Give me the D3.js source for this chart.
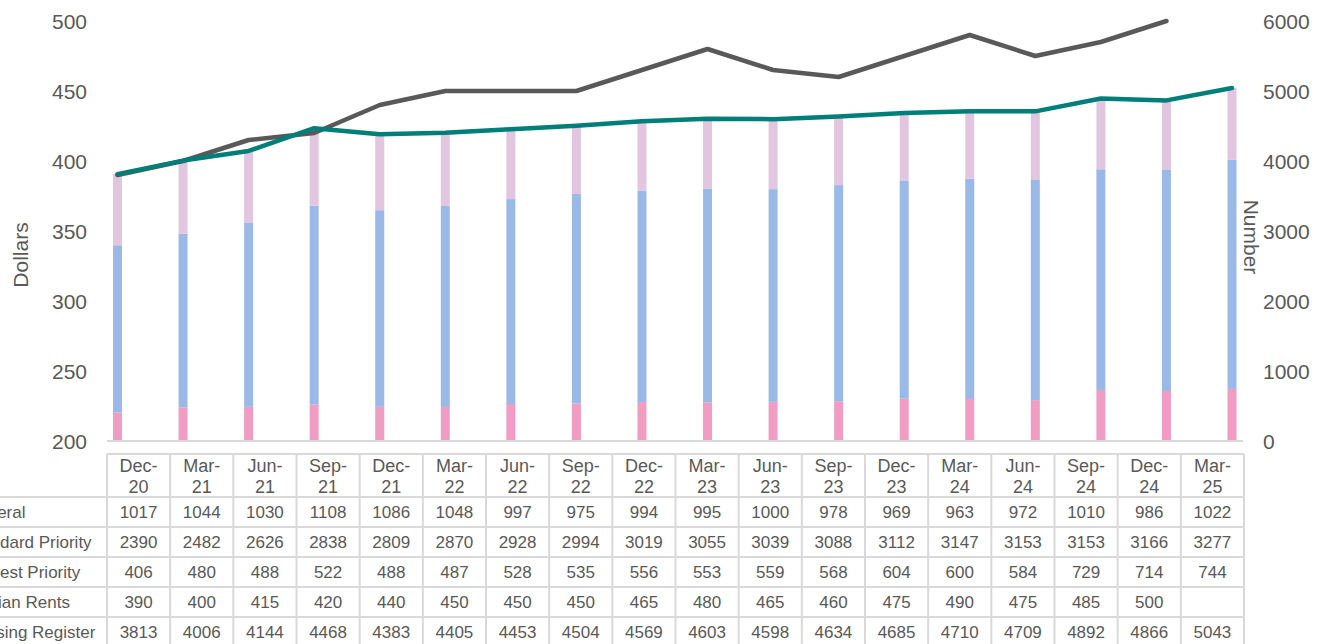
<!DOCTYPE html>
<html><head><meta charset="utf-8">
<script src="https://cdn.jsdelivr.net/npm/d3@7"></script>
<style>body{margin:0;background:#fff;overflow:hidden}svg{display:block}text{font-family:"Liberation Sans",Arial,sans-serif;fill:#595959}</style>
</head><body><svg id="c" width="1327" height="644"></svg>
<script>
const periods = ["Dec-20","Mar-21","Jun-21","Sep-21","Dec-21","Mar-22","Jun-22","Sep-22","Dec-22","Mar-23","Jun-23","Sep-23","Dec-23","Mar-24","Jun-24","Sep-24","Dec-24","Mar-25"];
const general = [1017,1044,1030,1108,1086,1048,997,975,994,995,1000,978,969,963,972,1010,986,1022];
const standardPriority = [2390,2482,2626,2838,2809,2870,2928,2994,3019,3055,3039,3088,3112,3147,3153,3153,3166,3277];
const highestPriority = [406,480,488,522,488,487,528,535,556,553,559,568,604,600,584,729,714,744];
const medianRents = [390,400,415,420,440,450,450,450,465,480,465,460,475,490,475,485,500,null];
const housingRegister = [3813,4006,4144,4468,4383,4405,4453,4504,4569,4603,4598,4634,4685,4710,4709,4892,4866,5043];
const leftTicks = [200,250,300,350,400,450,500];
const rightTicks = [0,1000,2000,3000,4000,5000,6000];

(function(){
const svg = d3.select("#c");
const plotTop = 21, plotBottom = 441, plotL = 107, plotR = 1243;
const x = d3.scalePoint().domain(periods).range([117.5, 1232]);
const yL = d3.scaleLinear().domain([200,500]).range([plotBottom, plotTop]);
const yR = d3.scaleLinear().domain([0,6000]).range([plotBottom, plotTop]);
const colT = d3.scaleBand().domain(periods).range([107, 1244]);

// bars
const stackKeys = ["highest","standard","general"];
const colors = {highest:"#F09CC3", standard:"#9BB9E7", general:"#E2C6DF"};
const rows = periods.map((p,i)=>({p, highest:highestPriority[i], standard:standardPriority[i], general:general[i]}));
const stacked = d3.stack().keys(stackKeys)(rows);
const bw = 9;
svg.append("g").selectAll("g").data(stacked).join("g").attr("fill", d=>colors[d.key])
  .selectAll("rect").data(d=>d).join("rect")
  .attr("x", d=>x(d.data.p)-bw/2).attr("width", bw)
  .attr("y", d=>yR(d[1])).attr("height", d=>yR(d[0])-yR(d[1]));

// baseline
svg.append("line").attr("x1",plotL).attr("x2",plotR).attr("y1",plotBottom).attr("y2",plotBottom).attr("stroke","#d9d9d9").attr("stroke-width",2);

// lines
const lineL = d3.line().defined(d=>d!=null).x((d,i)=>x(periods[i])).y(d=>yL(d));
const lineR = d3.line().x((d,i)=>x(periods[i])).y(d=>yR(d));
svg.append("path").attr("d", lineL(medianRents)).attr("fill","none").attr("stroke","#595959").attr("stroke-width",4.5).attr("stroke-linejoin","round").attr("stroke-linecap","round");
svg.append("path").attr("d", lineR(housingRegister)).attr("fill","none").attr("stroke","#007E7A").attr("stroke-width",4.5).attr("stroke-linejoin","round").attr("stroke-linecap","round");

// axes
const axL = d3.axisLeft(yL).tickValues(leftTicks).tickFormat(d3.format("d")).tickSize(0).tickPadding(0);
const gL = svg.append("g").attr("transform","translate(87,0)").call(axL);
gL.select(".domain").remove();
gL.selectAll("text").attr("font-size",21).attr("dy","0.36em").style("fill","#595959").attr("font-family","Liberation Sans, Arial, sans-serif");
const axR = d3.axisRight(yR).tickValues(rightTicks).tickFormat(d3.format("d")).tickSize(0).tickPadding(0);
const gR = svg.append("g").attr("transform","translate(1263,0)").call(axR);
gR.select(".domain").remove();
gR.selectAll("text").attr("font-size",21).attr("dy","0.36em").style("fill","#595959").attr("font-family","Liberation Sans, Arial, sans-serif");

svg.append("text").attr("transform","translate(28,255) rotate(-90)").attr("text-anchor","middle").attr("font-size",21).text("Dollars");
svg.append("text").attr("transform","translate(1244,237) rotate(90)").attr("text-anchor","middle").attr("font-size",21).text("Number");

// table
const tbl = svg.append("g");
const hdrTop = 454, rowTop = 497, rowH = 30;
const rowLabels = ["General","Standard Priority","Highest Priority","Median Rents","Housing Register"];
const rowData = [general, standardPriority, highestPriority, medianRents, housingRegister];
const lc = "#d9d9d9";
tbl.append("line").attr("x1",107).attr("x2",1244).attr("y1",hdrTop).attr("y2",hdrTop).attr("stroke",lc).attr("stroke-width",2);
for(let r=0;r<=rowLabels.length;r++){
  const yy = rowTop + r*rowH;
  tbl.append("line").attr("x1",0).attr("x2",1244).attr("y1",yy).attr("y2",yy).attr("stroke",lc).attr("stroke-width",2);
}
const bounds = periods.map(p=>colT(p)).concat([colT(periods[periods.length-1])+colT.bandwidth()]);
tbl.selectAll("line.v").data(bounds).join("line").attr("class","v")
  .attr("x1",d=>d).attr("x2",d=>d).attr("y1",hdrTop).attr("y2",650).attr("stroke",lc).attr("stroke-width",2);
periods.forEach(p=>{
  const cx = colT(p)+colT.bandwidth()/2;
  const [m,yv] = p.split("-");
  tbl.append("text").attr("x",cx).attr("y",472).attr("text-anchor","middle").attr("font-size",18).text(m+"-");
  tbl.append("text").attr("x",cx).attr("y",493).attr("text-anchor","middle").attr("font-size",18).text(yv);
});
rowLabels.forEach((lab,r)=>{
  const yy = rowTop + r*rowH + 21;
  tbl.append("text").attr("x",-35).attr("y",yy).attr("font-size",17).text(lab);
  periods.forEach((p,i)=>{
    const v = rowData[r][i];
    if(v==null) return;
    tbl.append("text").attr("x",colT(p)+colT.bandwidth()/2).attr("y",yy).attr("text-anchor","middle").attr("font-size",17).text(v);
  });
});
})();
</script></body></html>
